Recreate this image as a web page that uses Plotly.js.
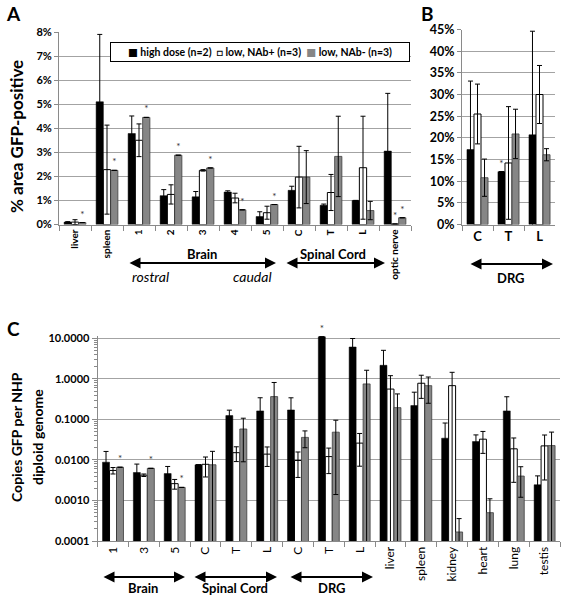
<!DOCTYPE html>
<html>
<head>
<meta charset="utf-8">
<script src="https://cdn.plot.ly/plotly-3.0.1.min.js"></script>
<style>html,body{margin:0;padding:0;background:#fff}#chart{width:566px;height:601px}</style>
</head>
<body>
<div id="chart"></div>
<script>
// ---------- Panel A: % area GFP-positive ----------
const catsA = ['liver','spleen','1','2','3','4','5','C','T','L','optic nerve'];
const highA = [0.1, 5.1, 3.78, 1.2, 1.15, 1.35, 0.33, 1.42, 0.8, 1.0, 3.05];
const highAErr = [0.02, 2.8, 0.73, 0.25, 0.22, 0.05, 0.2, 0.17, 0.05, 0, 2.4];
const lowPosA = [0.1, 2.28, 3.5, 1.25, 2.25, 1.1, 0.49, 1.97, 1.33, 2.36, 0.02];
const lowPosAErr = [0.1, 1.85, 0.68, 0.4, 0.03, 0.2, 0.27, 1.28, 0.75, 2.14, 0];
const lowNegA = [0.08, 2.25, 4.45, 2.88, 2.35, 0.61, 0.83, 1.97, 2.83, 0.58, 0.28];
const lowNegAErr = [0, 0, 0, 0, 0, 0, 0, 1.1, 1.67, 0.38, 0];
const starHighA = ['','','','','','','','','','',''];
const starPosA  = ['','','','','','','','','','','*'];
const starNegA  = ['*','*','*','*','*','*','*','','','','*'];

// ---------- Panel B: DRG ----------
const catsB = ['C','T','L'];
const highB = [17.3, 12.2, 20.7];
const highBErr = [15.8, 0, 23.9];
const lowPosB = [25.5, 14.2, 30.0];
const lowPosBErr = [6.9, 13, 6.7];
const lowNegB = [10.8, 20.9, 16.1];
const lowNegBErr = [4.3, 5.7, 1.4];
const starHighB = ['','*',''];

// ---------- Panel C: copies GFP per NHP diploid genome ----------
const catsC = ['1','3','5','C','T','L','C','T','L','liver','spleen','kidney','heart','lung','testis'];
const highC = [0.0088, 0.0049, 0.0046, 0.0076, 0.124, 0.162, 0.171, 10.9, 6.1, 2.16, 0.219, 0.0344, 0.0284, 0.162, 0.00244];
const highCErr = [0.0074, 0.003, 0.0023, 0, 0.045, 0.18, 0.17, 0, 3.8, 2.9, 0.25, 0.047, 0.013, 0.2, 0.0016];
const lowPosC = [0.0055, 0.0042, 0.0026, 0.0078, 0.0151, 0.0139, 0.0097, 0.0121, 0.026, 0.56, 0.78, 0.68, 0.0325, 0.0188, 0.0222];
const lowPosCErr = [0.001, 0.0003, 0.0007, 0.004, 0.006, 0.007, 0.006, 0.0075, 0.019, 0.64, 0.45, 0.77, 0.018, 0.016, 0.019];
const lowNegC = [0.0066, 0.0062, 0.0021, 0.0076, 0.058, 0.365, 0.036, 0.0484, 0.75, 0.195, 0.68, 0.000167, 0.0005, 0.004, 0.0226];
const lowNegCErr = [0, 0, 0, 0.0087, 0.049, 0.45, 0.016, 0.047, 0.88, 0.23, 0.43, 0.00019, 0.0006, 0.0028, 0.026];
const starHighC = ['','','','','','','','*','','','','','','',''];
const starNegC  = ['*','*','*','','','','','','','','','','','',''];

const seriesNames = ['high dose (n=2)', 'low, NAb+ (n=3)', 'low, NAb- (n=3)'];

const FONT = 'Lato, "Open Sans", "DejaVu Sans", sans-serif';
const W = 566, H = 601;
const px = v => v / W;
const py = v => 1 - v / H;

const styles = [
  {color: '#000000', line: {color: '#000000', width: 0.5}},
  {color: '#ffffff', line: {color: '#000000', width: 1}},
  {color: '#868686', line: {color: '#3c3c3c', width: 0.8}}
];

function bar(name, x, y, err, stars, idx, xa, ya) {
  return {
    type: 'bar', name: name, x: x, y: y,
    xaxis: xa, yaxis: ya, showlegend: false,
    marker: styles[idx],
    error_y: {type: 'data', array: err, visible: true, color: '#000', thickness: 1, width: 2.5},
    text: stars, textposition: 'outside', textangle: 0, constraintext: 'none',
    textfont: {family: FONT, size: 10, color: '#333'},
    cliponaxis: false, hoverinfo: 'none'
  };
}
const idxC = catsC.map((_, i) => i);
const emptyC = catsC.map(() => '');
const emptyB = catsB.map(() => '');

const data = [
  bar(seriesNames[0], catsA, highA, highAErr, starHighA, 0, 'x', 'y'),
  bar(seriesNames[1], catsA, lowPosA, lowPosAErr, starPosA, 1, 'x', 'y'),
  bar(seriesNames[2], catsA, lowNegA, lowNegAErr, starNegA, 2, 'x', 'y'),
  bar(seriesNames[0], catsB, highB, highBErr, starHighB, 0, 'x2', 'y2'),
  bar(seriesNames[1], catsB, lowPosB, lowPosBErr, emptyB, 1, 'x2', 'y2'),
  bar(seriesNames[2], catsB, lowNegB, lowNegBErr, emptyB, 2, 'x2', 'y2'),
  bar(seriesNames[0], idxC, highC, highCErr, starHighC, 0, 'x3', 'y3'),
  bar(seriesNames[1], idxC, lowPosC, lowPosCErr, emptyC, 1, 'x3', 'y3'),
  bar(seriesNames[2], idxC, lowNegC, lowNegCErr, starNegC, 2, 'x3', 'y3')
];

const axisLine = '#8a8a8a';
const gridCol = '#a3a3a3';
const boundsC = idxC.map(i => i - 0.5).concat([catsC.length - 0.5]);

const layout = {
  width: W, height: H, autosize: false,
  margin: {l: 0, r: 0, t: 0, b: 0},
  paper_bgcolor: '#fff', plot_bgcolor: '#fff',
  barmode: 'group', bargap: 0.32, bargroupgap: 0,
  font: {family: FONT, color: '#000'},
  showlegend: false,
  xaxis: {
    domain: [px(59), px(411)], anchor: 'y', type: 'category',
    tickson: 'boundaries', ticks: 'outside', ticklen: 5, tickcolor: axisLine,
    showline: true, linecolor: axisLine, linewidth: 1, tickangle: -90,
    tickfont: {family: FONT, size: 10, weight: 'bold'}, showgrid: false
  },
  yaxis: {
    domain: [py(224.5), py(32)], anchor: 'x', range: [0, 8], dtick: 1,
    ticksuffix: '%', showgrid: true, gridcolor: gridCol, gridwidth: 1,
    showline: true, linecolor: axisLine, ticks: 'outside', ticklen: 4, tickcolor: axisLine,
    zeroline: false, tickfont: {family: FONT, size: 11, weight: 'bold'}
  },
  xaxis2: {
    domain: [px(462), px(555)], anchor: 'y2', type: 'category',
    tickson: 'boundaries', ticks: 'outside', ticklen: 5, tickcolor: axisLine,
    showline: true, linecolor: axisLine, tickangle: 0,
    tickfont: {family: FONT, size: 13, weight: 'bold'}, showgrid: false
  },
  yaxis2: {
    domain: [py(224.5), py(29.5)], anchor: 'x2', range: [0, 45], dtick: 5,
    ticksuffix: '%', showgrid: true, gridcolor: gridCol, gridwidth: 1,
    showline: true, linecolor: axisLine, ticks: 'outside', ticklen: 4, tickcolor: axisLine,
    zeroline: false, tickfont: {family: FONT, size: 12.5, weight: 'bold'}
  },
  xaxis3: {
    domain: [px(97.6), px(560)], anchor: 'y3', type: 'linear',
    range: [-0.5, catsC.length - 0.5], tickmode: 'array', tickvals: idxC, ticktext: catsC,
    ticks: '', showline: true, linecolor: axisLine, tickangle: -90,
    tickfont: {family: FONT, size: 12}, showgrid: false, zeroline: false,
    minor: {tickmode: 'array', tickvals: boundsC, ticks: 'outside', ticklen: 5, tickcolor: axisLine, showgrid: false}
  },
  yaxis3: {
    domain: [py(541), py(335.9)], anchor: 'x3', type: 'log', range: [-4, 1.06],
    dtick: 1, tickformat: '.4f', showgrid: true, gridcolor: gridCol, gridwidth: 1,
    showline: true, linecolor: axisLine, ticks: 'outside', ticklen: 5, tickcolor: axisLine,
    zeroline: false, tickfont: {family: FONT, size: 11, weight: 'bold'},
    minor: {dtick: 'D1', ticks: 'outside', ticklen: 3, tickcolor: axisLine, showgrid: false}
  },
  annotations: []
};

const A = layout.annotations;
function label(text, x, y, size, opts) {
  A.push(Object.assign({
    text: text, xref: 'paper', yref: 'paper', x: px(x), y: py(y),
    xanchor: 'center', yanchor: 'middle', showarrow: false,
    font: {family: FONT, size: size, color: '#000', weight: 'bold'}
  }, opts || {}));
}
function arrow(x1, x2, y) {
  A.push({
    text: '', xref: 'paper', yref: 'paper', x: px(x2), y: py(y),
    axref: 'pixel', ayref: 'pixel', ax: x1 - x2, ay: 0,
    showarrow: true, arrowhead: 2, startarrowhead: 2, arrowside: 'end+start',
    arrowwidth: 2.2, arrowsize: 1, startarrowsize: 1, arrowcolor: '#000',
    standoff: 0, startstandoff: 0
  });
}

// panel letters
label('A', 13, 14, 19);
label('B', 427, 14, 19);
label('C', 13, 328, 19);

// y-axis titles
label('% area GFP-positive', 16, 137, 17, {textangle: -90});
label('Copies GFP per NHP', 16, 437, 14, {textangle: -90});
label('diploid genome', 37, 437, 14, {textangle: -90});

// legend (panel A)
label("<span style='color:#000'>■</span> " + seriesNames[0] + "  □ " + seriesNames[1] +
      "  <span style='color:#868686'>■</span> " + seriesNames[2],
      259.5, 52, 10.5, {bordercolor: '#000', borderwidth: 1, borderpad: 3, bgcolor: '#fff',
      width: 292, align: 'center'});

// panel A group labels
label('Brain', 202, 254, 13);
label('Spinal Cord', 333, 254, 13);
label('rostral', 150, 276, 14, {font: {family: FONT, size: 14, style: 'italic', color: '#000'}});
label('caudal', 252, 276, 14, {font: {family: FONT, size: 14, style: 'italic', color: '#000'}});
arrow(128, 276, 263);
arrow(285, 385, 263);

// panel B group labels
label('DRG', 511, 278, 13);
arrow(469, 553, 264);

// panel C group labels
label('Brain', 143, 588, 13);
label('Spinal Cord', 235, 588, 13);
label('DRG', 332, 588, 13);
arrow(102, 185, 577);
arrow(193, 277, 577);
arrow(289, 373, 577);

Plotly.newPlot('chart', data, layout, {staticPlot: true, displayModeBar: false});
</script>
</body>
</html>
